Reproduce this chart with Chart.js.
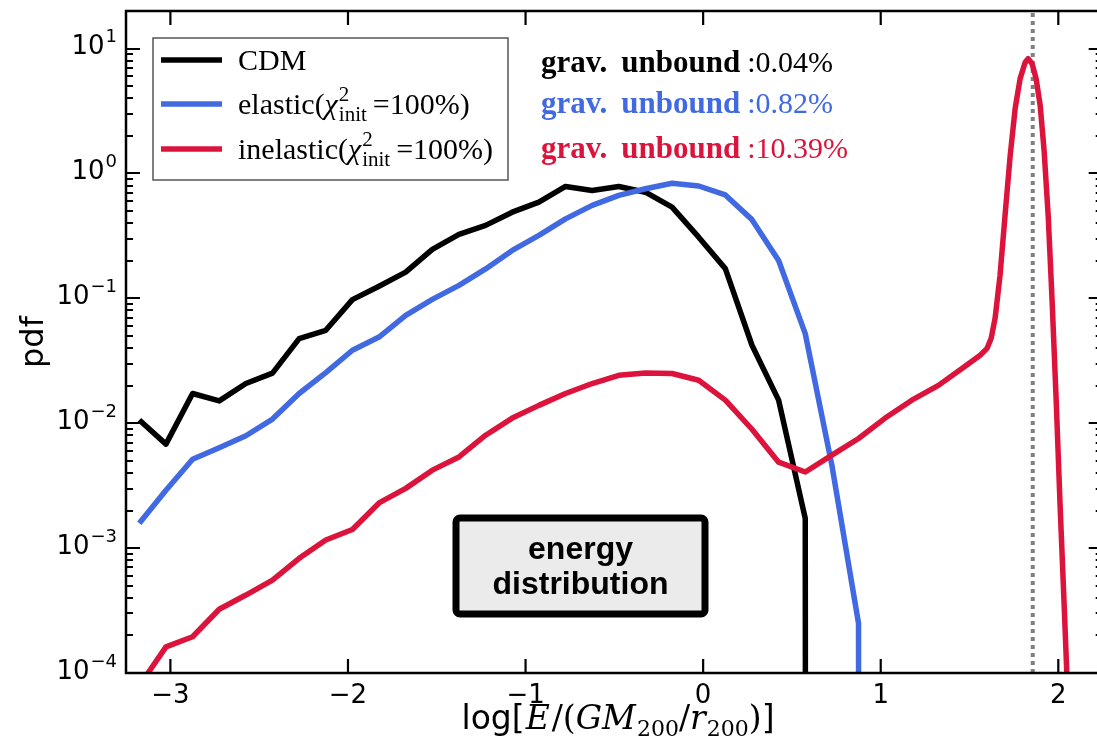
<!DOCTYPE html>
<html>
<head>
<meta charset="utf-8">
<title>energy distribution</title>
<script src="https://cdn.jsdelivr.net/npm/chart.js@4.4.1/dist/chart.umd.min.js"></script>
<style>
  html, body { margin: 0; padding: 0; background: #fff; overflow: hidden; }
  #wrap { position: relative; width: 1104px; height: 745px; }
</style>
</head>
<body>
<div id="wrap"><canvas id="energyChart"></canvas></div>
<script>
// histogram bins in log[E/(GM200/r200)]
const binEdgeMin = -3.25;
const binWidth = 0.15;

// pdf per bin, 0 = empty bin
const cdmPdf = [0.0106, 0.0068, 0.0173, 0.0151, 0.0208, 0.0252, 0.0476, 0.0555, 0.0977, 0.125,
  0.162, 0.247, 0.325, 0.384, 0.490, 0.589, 0.787, 0.731, 0.787, 0.708,
  0.537, 0.309, 0.173, 0.0421, 0.0153, 0.00173, 0];
const elasticPdf = [0.00158, 0.00291, 0.00515, 0.00637, 0.00794, 0.0108, 0.0173, 0.0254, 0.0384, 0.0490,
  0.0731, 0.0982, 0.127, 0.172, 0.242, 0.319, 0.433, 0.555, 0.667, 0.755,
  0.836, 0.794, 0.673, 0.427, 0.201, 0.0522, 0.00461, 0.00025, 0];
const inelasticPdf = [7.9e-5, 1.62e-4, 1.95e-4, 3.24e-4, 4.21e-4, 5.55e-4, 8.28e-4, 1.16e-3, 1.41e-3, 2.30e-3,
  3.01e-3, 4.21e-3, 5.37e-3, 8.02e-3, 0.0110, 0.0139, 0.0173, 0.0208, 0.0242, 0.0252,
  0.0250, 0.0221, 0.0153, 0.00895, 0.00488, 0.00407, 0.00555, 0.00755, 0.0110, 0.0153,
  0.0201, 0.0286];
// finer sampling across the unbound peak
const inelasticPeakE = [1.560, 1.599, 1.622, 1.644, 1.672, 1.700, 1.729, 1.757, 1.785, 1.813,
  1.830, 1.852, 1.875, 1.898, 1.920, 1.943, 1.965, 1.988, 2.010, 2.033, 2.055];
const inelasticPeakPdf = [0.035, 0.0398, 0.0479, 0.0692, 0.153, 0.461, 1.39, 3.31, 5.75, 7.73,
  8.3, 7.59, 5.75, 3.50, 1.53, 0.461, 0.0964, 0.0153, 0.00221, 0.00035, 0.000055];

const refLineE = 1.856;

const seriesNames = ['CDM', 'elastic', 'inelastic'];
const seriesColors = ['#000000', '#4169e1', '#dc143c'];
const unboundPct = ['0.04', '0.82', '10.39'];

const xTickValues = [-3, -2, -1, 0, 1, 2];
const yDecades = [1e-4, 1e-3, 1e-2, 1e-1, 1, 10];
const yDecadeExp = ['\u22124', '\u22123', '\u22122', '\u22121', '0', '1'];

const xMin = -3.25, xMax = 2.25, yMin = 1e-4, yMax = 20;

const sansFont = '"DejaVu Sans", sans-serif';
const serifFont = '"Liberation Serif", "DejaVu Serif", serif';
const mathFont = '"DejaVu Serif", serif';

// empty bins fall off the bottom of the log axis, like a clipped log plot
const floorEmpty = v => (v > 0 ? v : 1e-300);
const binned = arr => arr.map((v, i) => ({ x: binEdgeMin + binWidth * (i + 0.5), y: floorEmpty(v) }));

const inelasticData = binned(inelasticPdf).concat(
  inelasticPeakE.map((e, i) => ({ x: e, y: inelasticPeakPdf[i] })));

function lineSet(label, data, color) {
  return {
    label, data,
    borderColor: color, borderWidth: 5.5,
    pointRadius: 0, tension: 0,
    borderJoinStyle: 'round', borderCapStyle: 'butt'
  };
}

const decadeIndex = v => yDecades.findIndex(d => Math.abs(v / d - 1) < 1e-9);

// ticks inside the frame on all four sides, the frame, and the y labels
const framePlugin = {
  id: 'frame',
  afterDatasetsDraw(chart) {
    const { ctx, chartArea: a, scales: { x, y } } = chart;
    ctx.save();
    ctx.strokeStyle = '#000';
    ctx.lineCap = 'butt';
    ctx.lineWidth = 2.2;
    ctx.beginPath();
    x.ticks.forEach(t => {
      const px = x.getPixelForValue(t.value);
      ctx.moveTo(px, a.bottom); ctx.lineTo(px, a.bottom - 14);
      ctx.moveTo(px, a.top); ctx.lineTo(px, a.top + 14);
    });
    y.ticks.forEach(t => {
      const py = Math.round(y.getPixelForValue(t.value));
      const len = decadeIndex(t.value) >= 0 ? 14 : 7;
      ctx.moveTo(a.left, py); ctx.lineTo(a.left + len, py);
      ctx.moveTo(a.right, py); ctx.lineTo(a.right - len, py);
    });
    ctx.stroke();
    ctx.lineWidth = 2.5;
    ctx.strokeRect(a.left, a.top, a.right - a.left, a.bottom - a.top);

    // 10^n labels with a raised exponent
    ctx.fillStyle = '#000';
    ctx.textBaseline = 'middle';
    ctx.textAlign = 'right';
    yDecades.forEach((d, i) => {
      const py = y.getPixelForValue(d);
      const right = a.left - 9;
      ctx.font = `18px ${sansFont}`;
      ctx.fillText(yDecadeExp[i], right, py - 11);
      const ew = ctx.measureText(yDecadeExp[i]).width;
      ctx.font = `26px ${sansFont}`;
      ctx.fillText('10', right - ew - 1, py - 1);
    });
    ctx.restore();
  }
};

function runsWidth(ctx, runs) {
  let w = 0;
  runs.forEach(r => { ctx.font = r.font; w += ctx.measureText(r.text).width + (r.gap || 0); });
  return w;
}
function drawRuns(ctx, x, y, runs, color) {
  runs.forEach(r => {
    ctx.font = r.font;
    ctx.fillStyle = color;
    ctx.fillText(r.text, x, y + (r.dy || 0));
    x += ctx.measureText(r.text).width + (r.gap || 0);
  });
  return x;
}

// "name(χ²_init =100%)"
function drawChiLabel(ctx, x, y, name) {
  ctx.fillStyle = '#000';
  ctx.font = `30px ${serifFont}`;
  ctx.fillText(name + '(', x, y);
  x += ctx.measureText(name + '(').width;
  ctx.font = `italic 30px ${serifFont}`;
  ctx.fillText('\u03c7', x, y);
  x += ctx.measureText('\u03c7').width + 1;
  ctx.font = `21px ${serifFont}`;
  ctx.fillText('2', x, y - 13);
  ctx.fillText('init', x, y + 7);
  x += Math.max(ctx.measureText('2').width, ctx.measureText('init').width) + 6;
  ctx.font = `30px ${serifFont}`;
  ctx.fillText('=100%)', x, y);
}

const annotationPlugin = {
  id: 'annotations',
  afterDraw(chart) {
    const { ctx, chartArea: a } = chart;
    ctx.save();
    ctx.textAlign = 'left';
    ctx.textBaseline = 'alphabetic';

    // legend box
    ctx.fillStyle = '#fff';
    ctx.fillRect(153, 38, 355, 142);
    ctx.strokeStyle = '#555';
    ctx.lineWidth = 1.5;
    ctx.strokeRect(153, 38, 355, 142);
    const rowY = [60, 104, 149];
    seriesNames.forEach((name, i) => {
      ctx.strokeStyle = seriesColors[i];
      ctx.lineWidth = 5.5;
      ctx.beginPath();
      ctx.moveTo(161, rowY[i]); ctx.lineTo(222, rowY[i]);
      ctx.stroke();
      if (i === 0) {
        ctx.fillStyle = '#000';
        ctx.font = `30px ${serifFont}`;
        ctx.fillText(name, 238, rowY[i] + 10);
      } else {
        drawChiLabel(ctx, 238, rowY[i] + 10, name);
      }
    });

    // unbound fractions
    const fracY = [72, 113, 158];
    unboundPct.forEach((p, i) => {
      drawRuns(ctx, 541, fracY[i], [
        { text: 'grav.', font: `bold 31px ${serifFont}`, gap: 14 },
        { text: 'unbound', font: `bold 31px ${serifFont}`, gap: 7 },
        { text: ':' + p + '%', font: `30px ${serifFont}` }
      ], seriesColors[i]);
    });

    // panel tag
    ctx.beginPath();
    ctx.roundRect(456, 518, 249, 96, 4);
    ctx.fillStyle = '#ebebeb';
    ctx.fill();
    ctx.lineWidth = 7;
    ctx.strokeStyle = '#000';
    ctx.stroke();
    ctx.fillStyle = '#000';
    ctx.textAlign = 'center';
    ctx.font = `bold 32px "Liberation Sans", Arial, sans-serif`;
    ctx.fillText('energy', 580.5, 559);
    ctx.fillText('distribution', 580.5, 594);

    // y title
    ctx.save();
    ctx.translate(35, (a.top + a.bottom) / 2);
    ctx.rotate(-Math.PI / 2);
    ctx.font = `32px ${sansFont}`;
    ctx.textBaseline = 'middle';
    ctx.fillText('pdf', 0, 0);
    ctx.restore();

    // x title: log[E/(GM_200/r_200)]
    ctx.textAlign = 'left';
    const sub = `22px ${mathFont}`;
    const rom = `33px ${mathFont}`;
    const ita = `italic 33px ${mathFont}`;
    const xRuns = [
      { text: 'log[', font: `33px ${sansFont}`, gap: 1 },
      { text: 'E', font: ita, gap: 2 },
      { text: '/(', font: rom },
      { text: 'GM', font: ita, gap: 1 },
      { text: '200', font: sub, dy: 7 },
      { text: '/', font: rom },
      { text: 'r', font: ita, gap: 1 },
      { text: '200', font: sub, dy: 7 },
      { text: ')', font: rom },
      { text: ']', font: `33px ${sansFont}` }
    ];
    const w = runsWidth(ctx, xRuns);
    drawRuns(ctx, 618 - w / 2, 729, xRuns, '#000');
    ctx.restore();
  }
};

new Chart(document.getElementById('energyChart'), {
  type: 'line',
  data: {
    datasets: [
      lineSet('inelastic', inelasticData, seriesColors[2]),
      lineSet('elastic', binned(elasticPdf), seriesColors[1]),
      lineSet('CDM', binned(cdmPdf), seriesColors[0]),
      {
        label: 'ref',
        data: [{ x: refLineE, y: yMin }, { x: refLineE, y: yMax }],
        borderColor: '#808080', borderWidth: 4, borderDash: [4, 4],
        pointRadius: 0
      }
    ]
  },
  options: {
    responsive: true,
    maintainAspectRatio: false,
    animation: false,
    devicePixelRatio: 1,
    layout: { padding: { top: 11, right: 1.3, left: 0, bottom: 0 } },
    plugins: { legend: { display: false }, tooltip: { enabled: false } },
    scales: {
      x: {
        type: 'linear', min: xMin, max: xMax,
        grid: { display: false, drawTicks: false },
        border: { display: false },
        afterBuildTicks: s => { s.ticks = xTickValues.map(v => ({ value: v })); },
        afterFit: s => { s.height = 72; s.paddingLeft = 0; s.paddingRight = 0; },
        ticks: {
          autoSkip: false, maxRotation: 0, padding: 8, color: '#000',
          font: { family: '"DejaVu Sans", sans-serif', size: 26 },
          callback: v => (v < 0 ? '\u2212' + Math.abs(v) : String(v))
        }
      },
      y: {
        type: 'logarithmic', min: yMin, max: yMax,
        grid: { display: false, drawTicks: false },
        border: { display: false },
        afterBuildTicks: s => {
          const ticks = [];
          yDecades.forEach(d => {
            for (let m = 1; m < 10; m++) {
              if (d * m <= yMax) ticks.push({ value: d * m, major: m === 1 });
            }
          });
          s.ticks = ticks;
        },
        afterFit: s => { s.width = 126; s.paddingTop = 0; s.paddingBottom = 0; },
        ticks: { display: true, autoSkip: false, callback: () => '' }
      }
    }
  },
  plugins: [framePlugin, annotationPlugin]
});
</script>
</body>
</html>
